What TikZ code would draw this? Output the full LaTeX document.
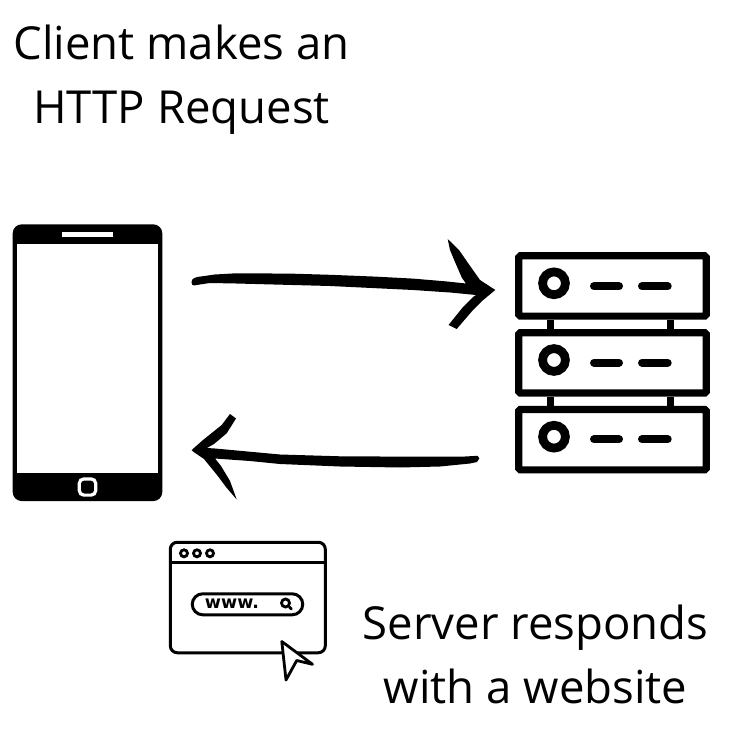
\documentclass[tikz,border=0pt]{standalone}
\usepackage{fontspec}
\setmainfont{Open Sans}
\usetikzlibrary{calc}
\tikzset{
  caption/.style={align=center,inner sep=0pt,font=\fontsize{45.5}{64}\selectfont,text=black},
  rackbox/.style={draw=black,line width=7.2pt,fill=white,rounded corners=1.5pt,minimum width=187.5pt,minimum height=60.3pt,inner sep=0pt},
  racklink/.style={draw=black,line width=7.2pt},
  led/.style={circle,draw=black,line width=8.8pt,fill=white,minimum size=22.8pt,inner sep=0pt},
  rackdash/.style={draw=black,line width=8pt,line cap=round},
  brush/.style={fill=black,draw=none},
  thinline/.style={draw=black,line width=3pt},
  winbtn/.style={circle,draw=black,line width=2.8pt,minimum size=7pt,inner sep=0pt},
}
\begin{document}
\begin{tikzpicture}[x=1pt,y=-1pt]
\useasboundingbox (0,0) rectangle (753,738);
\fill[white] (0,0) rectangle (753,738);

% captions
\node[caption] (reqtext) at (181.5,80) {Client makes an\\HTTP Request};
\node[caption] (restext) at (535.5,654.5) {Server responds\\with a website};

% phone
\node[fill=black,rounded corners=9pt,minimum width=149.6pt,minimum height=276.7pt,inner sep=0pt] (phone) at (87.5,362.7) {};
\node[fill=white,minimum width=141pt,minimum height=228.7pt,inner sep=0pt] (screen) at (87.2,358.4) {};
\node[fill=white,minimum width=51pt,minimum height=4.4pt,inner sep=0pt] (speaker) at (87.2,234.5) {};
\node[draw=white,line width=3.2pt,rounded corners=4.5pt,minimum width=16.4pt,minimum height=16.2pt,inner sep=0pt] (homebtn) at (87.5,487) {};

% server rack
\node[rackbox] (srva) at (612.5,286) {};
\node[rackbox] (srvb) at (612.5,362.9) {};
\node[rackbox] (srvc) at (612.5,439.7) {};
\draw[racklink] ([xshift=35pt]srva.south west) -- ([xshift=35pt]srvb.north west);
\draw[racklink] ([xshift=-39pt]srva.south east) -- ([xshift=-39pt]srvb.north east);
\draw[racklink] ([xshift=35pt]srvb.south west) -- ([xshift=35pt]srvc.north west);
\draw[racklink] ([xshift=-39pt]srvb.south east) -- ([xshift=-39pt]srvc.north east);
\node[led] (leda) at (554,283.3) {};
\node[led] (ledb) at (554,360) {};
\node[led] (ledc) at (554,436.7) {};
\draw[rackdash] (594,286.3) -- (619,286.3) (642,286.3) -- (667.7,286.3);
\draw[rackdash] (594,362.7) -- (619,362.7) (642,362.7) -- (667.7,362.7);
\draw[rackdash] (594,439.3) -- (619,439.3) (642,439.3) -- (667.7,439.3);

% request arrow
\coordinate (reqtail) at (191.5,281.7);
\coordinate (reqtip) at (495.3,290);
\path[brush] (reqtail) .. controls (192,278) and (196,277) .. (201,276.5)
  -- (215,274.5) -- (236,273.3) -- (290,273.6) -- (330,274.8) -- (375,276.6) -- (413,278.6) -- (445,281.3) -- (466,283.5)
  -- (462,278) -- (455,262) -- (450,250) -- (447.7,239) -- (459,250) -- (468,263) -- (480,280)
  -- (reqtip) -- (482,301) -- (473,310) -- (456.7,329) -- (448.5,325) -- (463.3,306.7) -- (473,297) -- (476,295)
  -- (450,292.5) -- (413,290) -- (330,286) -- (236,283.5) -- (210,283) -- (200,284.5) -- (194,285.5) .. controls (192,285) .. (reqtail) -- cycle;

% response arrow
\coordinate (resptail) at (479.3,458.5);
\coordinate (resptip) at (191.7,450);
\path[brush] (resptail) .. controls (478,455.5) .. (474,456) -- (465,456.5) -- (380,456.5) -- (340,456.3) -- (280,454.5) -- (215,448.5) -- (207,448)
  -- (214,444) -- (226.7,433.3) -- (236,418.5) -- (230,414) -- (221.7,425) -- (203,440)
  -- (resptip) -- (193,451.5) -- (204,459) -- (217,475) -- (226,487) -- (236.7,499.5) -- (230,481) -- (221,466) -- (215,458.5)
  -- (250,461) -- (280,464) -- (340,466.5) -- (400,467.5) -- (440,466.5) -- (470,463.5) -- (477,462) -- cycle;

% browser window
\node[draw=black,line width=3pt,fill=white,rounded corners=7pt,minimum width=155pt,minimum height=110.5pt,inner sep=0pt] (browser) at (247.8,597.5) {};
\draw[thinline] (browser.west |- 0,562.7) -- (browser.east |- 0,562.7);
\node[winbtn] (dota) at (184,553.3) {};
\node[winbtn] (dotb) at (197,553.3) {};
\node[winbtn] (dotc) at (210,553.3) {};
\node[draw=black,line width=3pt,rounded corners=10.5pt,minimum width=110.5pt,minimum height=21pt,inner sep=0pt] (searchbar) at (247.5,604.3) {};
\node[inner sep=0pt,font=\fontsize{17.5}{18}\selectfont\bfseries\fontspec{DejaVu Sans}] (www) at (232,604) {www.};
\node[circle,draw=black,line width=2.8pt,minimum size=8pt,inner sep=0pt] (lens) at (285.5,603) {};
\draw[black,line width=2.8pt,line cap=round] (lens.south east) -- (291.3,609);
\coordinate (curtip) at (281.8,641.5);
\path[draw=black,fill=white,line width=2.8pt,line join=round] (curtip) -- (312.5,664.3) -- (296.7,660.5) -- (286,680) -- cycle;
\end{tikzpicture}
\end{document}
